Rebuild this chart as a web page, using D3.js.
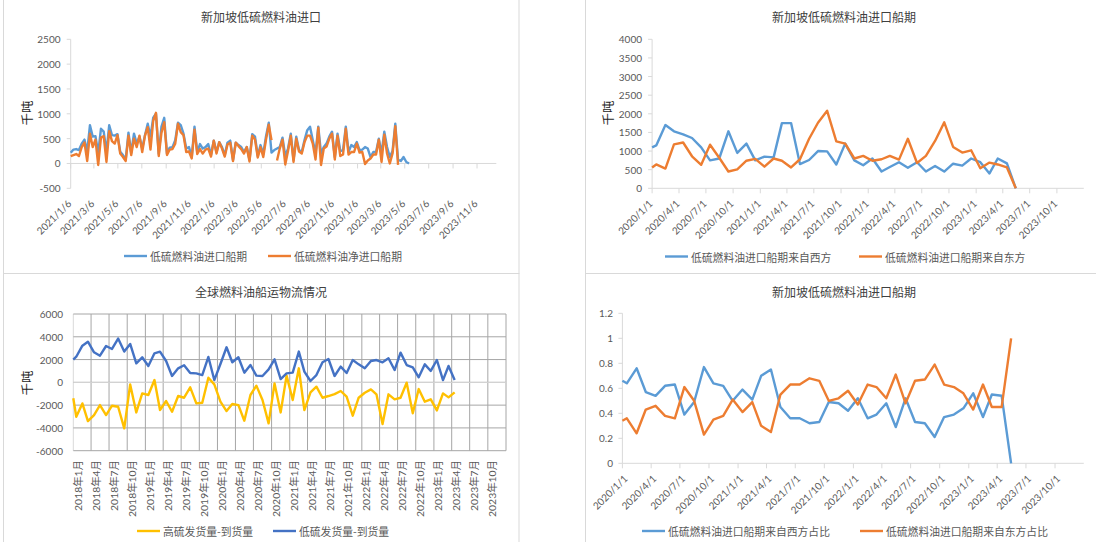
<!DOCTYPE html>
<html><head><meta charset="utf-8">
<script src="https://cdn.jsdelivr.net/npm/d3@7"></script>
<style>
body{margin:0;background:#fff;}
svg text{font-family:"Noto Sans CJK SC","Noto Sans",sans-serif;}
.num{font-family:Lato,"Noto Sans CJK SC",sans-serif;}
</style></head><body>
<svg id="c" width="1096" height="542"></svg>
<script>
// ---------------- DATA ----------------
// Panel 1: weekly, from 2021/1/6
const p1Title = "新加坡低硫燃料油进口";
const p1Start = "2021-01-06";
const p1Names = ["低硫燃料油进口船期", "低硫燃料油净进口船期"];
const p1Imports = [215,280,290,270,400,480,240,770,540,550, 210,700,640,230,770,570,560,590,235,170,
  80,620,215,600,400,540,300,570,800,540, 920,1000,190,740,920,200,320,330,470,820,
  770,600,300,330,130,740,230,390,300,330, 390,170,460,230,430,330,170,420,460,70,
  420,370,330,230,330,70,590,540,150,370, 190,550,820,220,270,300,330,520,150,300,
  600,70,540,270,230,470,670,740,470,200, 740,200,330,400,540,640,130,600,250,270,
  740,230,370,330,430,270,280,330,300,130, 230,230,500,200,640,330,130,250,800,70,
  50,130,30,0];
const p1NetImports = [150,170,190,150,330,420,50,600,330,480, -30,520,550,30,650,450,400,570,200,130,
  50,560,170,500,330,560,230,560,730,280, 860,1020,150,620,830,170,280,290,400,800,
  630,570,230,240,100,680,190,290,200,280, 300,140,460,200,430,300,140,380,420,50,
  420,350,290,200,330,40,560,480,120,330, 130,480,780,470,null,60,300,480,-20,250,
  560,30,500,240,200,430,560,560,400,80, 720,-30,300,340,500,600,80,560,150,180,
  700,180,230,230,400,220,230,-10,60,100, 180,180,480,30,580,200,0,200,750,-30];
const p1YTicks = [-500,0,500,1000,1500,2000,2500];

// Panel 2 / 4: monthly ship schedule, 2020/1 - 2023/5
const p2Title = "新加坡低硫燃料油进口船期";
const p2Dates = ["2020-01-01","2020-01-15","2020-02-15","2020-03-15","2020-04-15","2020-05-15","2020-06-15","2020-07-15","2020-08-15","2020-09-15","2020-10-15","2020-11-15","2020-12-15",
  "2021-01-15","2021-02-15","2021-03-15","2021-04-15","2021-05-15","2021-06-15","2021-07-15","2021-08-15","2021-09-15","2021-10-15","2021-11-15","2021-12-15",
  "2022-01-15","2022-02-15","2022-03-15","2022-04-15","2022-05-15","2022-06-15","2022-07-15","2022-08-15","2022-09-15","2022-10-15","2022-11-15","2022-12-15",
  "2023-01-15","2023-02-15","2023-03-15","2023-04-15","2023-05-15"];
const p2Names = ["低硫燃料油进口船期来自西方", "低硫燃料油进口船期来自东方"];
const p2West = [1100,1150,1700,1530,1450,1350,1100,750,800,1530,950,1200,750,850,830,1750,1750,650,760,1000,990,640,1200,750,620,800,450,570,700,550,700,450,600,450,660,610,800,700,400,800,670,0];
const p2East = [560,640,530,1180,1230,860,630,1170,820,450,510,740,790,580,800,740,560,780,1330,1760,2080,1260,1200,800,870,740,780,870,770,1330,680,870,1270,1770,1110,960,1020,540,690,640,560,0];
const p2YTicks = [0,500,1000,1500,2000,2500,3000,3500,4000];

const p4Names = ["低硫燃料油进口船期来自西方占比", "低硫燃料油进口船期来自东方占比"];
const p4West = [0.66,0.64,0.76,0.57,0.54,0.62,0.63,0.39,0.49,0.77,0.64,0.62,0.50,0.59,0.51,0.70,0.75,0.45,0.36,0.36,0.32,0.33,0.49,0.48,0.42,0.52,0.36,0.39,0.48,0.29,0.52,0.33,0.32,0.21,0.37,0.39,0.44,0.56,0.37,0.55,0.54,0];
const p4East = [0.34,0.36,0.24,0.43,0.46,0.38,0.36,0.61,0.50,0.23,0.35,0.38,0.51,0.41,0.49,0.30,0.25,0.55,0.63,0.63,0.68,0.66,0.50,0.52,0.58,0.47,0.63,0.61,0.52,0.71,0.48,0.66,0.67,0.79,0.63,0.61,0.56,0.43,0.63,0.45,0.45,1.0];
const p4YTicks = [0,0.2,0.4,0.6,0.8,1,1.2];

// Panel 3: monthly, 2018/1 - 2023/4
const p3Title = "全球燃料油船运物流情况";
const p3Names = ["高硫发货量-到货量", "低硫发货量-到货量"];
const p3High = [-1400,-3020,-1850,-3400,-2870,-2000,-2870,-2050,-2140,-4040,-180,-2640,-970,-1110,200,-2430,-1640,-2580,-1200,-1350,-440,-1850,-1790,410,-180,-1700,-2520,-1900,-2000,-3370,-1110,-290,-1550,-3600,
  -90,-2640,590,-1550,1230,-2430,-880,-380,-1350,-1200,-1030,-760,-1260,-2930,-1350,-910,-620,-1050,-3660,-1050,-1490,-1350,-30,-2720,-590,-1700,-1490,-2460,-970,-1320,-880];
const p3Low = [2000,2250,3220,3570,2640,2340,3190,2930,3840,2700,3370,1670,2200,1440,2550,2700,1875,560,1230,1500,820,790,640,2230,200,1610,3080,1760,2200,850,1520,590,560,1140,
  2020,290,790,850,2700,940,120,640,1760,2050,560,1380,820,1960,1580,1230,1875,1960,1760,2110,1080,2610,1520,1320,440,1580,1000,1960,200,1440,200];
const p3YTicks = [-6000,-4000,-2000,0,2000,4000,6000];
const unitLabel = "千吨";

// ---------------- DRAW ----------------
const svg = d3.select("#c");
const pd = d3.timeParse("%Y-%m-%d");
const C = {blue:"#5B9BD5", orange:"#ED7D31", yellow:"#FFC000", dblue:"#4472C4",
  axis:"#D9D9D9", txt:"#595959", title:"#404040", grid:"#A6A6A6"};
const fmtSlash = d3.timeFormat("%Y/%-m/%-d");
const FS = 10;      // numeric tick labels
const LFS = 10.8;   // legend text
const LW = 2.4;

// chart frames
svg.append("rect").attr("x",3.5).attr("y",-2).attr("width",515.5).attr("height",275.5).attr("fill","none").attr("stroke",C.axis);
svg.append("rect").attr("x",3.5).attr("y",273.5).attr("width",515.5).attr("height",272).attr("fill","none").attr("stroke",C.axis);
svg.append("rect").attr("x",585.5).attr("y",-2).attr("width",515).attr("height",275.5).attr("fill","none").attr("stroke",C.axis);
svg.append("rect").attr("x",585.5).attr("y",273.5).attr("width",515).attr("height",272).attr("fill","none").attr("stroke",C.axis);

function title(t, cx, cy){
  svg.append("text").attr("x",cx).attr("y",cy).attr("text-anchor","middle").attr("dominant-baseline","central")
    .attr("font-size",12).attr("fill",C.title).text(t);
}
function unit(x,y){
  svg.append("text").attr("transform",`translate(${x},${y}) rotate(-90)`).attr("text-anchor","middle")
    .attr("dominant-baseline","central").attr("font-size",12.5).attr("fill","#262626").text(unitLabel);
}
function legend(items, y){
  items.forEach(it=>{
    svg.append("line").attr("x1",it.x).attr("x2",it.x+23).attr("y1",y).attr("y2",y).attr("stroke",it.color).attr("stroke-width",LW);
    svg.append("text").attr("x",it.x+26).attr("y",y).attr("dominant-baseline","central").attr("font-size",LFS).attr("fill",C.txt).text(it.name);
  });
}
function yAxisSimple(y, ticks, axX, labX, fmt){
  const g = svg.append("g");
  g.append("line").attr("x1",axX).attr("x2",axX).attr("y1",y(ticks[ticks.length-1])).attr("y2",y(ticks[0])).attr("stroke",C.axis);
  ticks.forEach(t=>{
    g.append("line").attr("x1",axX-4).attr("x2",axX).attr("y1",y(t)).attr("y2",y(t)).attr("stroke",C.axis);
    g.append("text").attr("class","num").attr("x",labX).attr("y",y(t)).attr("text-anchor","end").attr("dominant-baseline","central")
      .attr("font-size",FS).attr("fill",C.txt).text(fmt?fmt(t):t);
  });
}
function xDateAxis(x, ticks, axY, x0, x1, labY, dx){
  svg.append("line").attr("x1",x0).attr("x2",x1).attr("y1",axY).attr("y2",axY).attr("stroke",C.axis);
  ticks.forEach(t=>{
    const px = x(t);
    svg.append("line").attr("x1",px).attr("x2",px).attr("y1",axY).attr("y2",axY+5).attr("stroke",C.axis);
    svg.append("text").attr("class","num").attr("transform",`translate(${px+dx},${labY}) rotate(-45)`).attr("text-anchor","end")
      .attr("dominant-baseline","central").attr("font-size",FS).attr("fill",C.txt).text(fmtSlash(t));
  });
}
function series(x,y,dates,vals,color){
  const data = dates.map((d,i)=>({d, v: vals[i]}));
  svg.append("path").datum(data).attr("fill","none").attr("stroke",color).attr("stroke-width",LW)
    .attr("stroke-linejoin","round")
    .attr("d", d3.line().defined(p=>p.v!==null && p.v!==undefined).x(p=>x(p.d)).y(p=>y(p.v)));
}

// ---- Panel 1 ----
{
  const start = pd(p1Start);
  const x = d3.scaleTime().domain([start, pd("2023-12-25")]).range([70.7, 496.3]);
  const y = d3.scaleLinear().domain([-500,2500]).range([188.3,39.3]);
  title(p1Title, 261, 16.7);
  unit(26, 113);
  yAxisSimple(y, p1YTicks, 70.7, 60.5);
  const ticks = d3.range(18).map(i=>d3.timeMonth.offset(start, i*2));
  xDateAxis(x, ticks, y(0), 70.7, 496.3, 201.5, -1.5);
  const dates = p1Imports.map((_,i)=>d3.timeDay.offset(start, i*7));
  series(x,y,dates,p1Imports,C.blue);
  series(x,y,dates.slice(0,p1NetImports.length),p1NetImports,C.orange);
  legend([{x:124,color:C.blue,name:p1Names[0]},{x:268,color:C.orange,name:p1Names[1]}], 256);
}
// ---- Panel 2 ----
{
  const x = d3.scaleTime().domain([pd("2020-01-01"), pd("2023-12-31")]).range([652.1, 1083.8]);
  const y = d3.scaleLinear().domain([0,4000]).range([188.3,39.3]);
  title(p2Title, 844, 16.7);
  unit(607, 113);
  yAxisSimple(y, p2YTicks, 652.1, 642);
  const ticks = d3.range(16).map(i=>d3.timeMonth.offset(pd("2020-01-01"), i*3));
  xDateAxis(x, ticks, 188.3, 652.1, 1083.8, 201.5, -1.5);
  const dates = p2Dates.map(pd);
  series(x,y,dates,p2West,C.blue);
  series(x,y,dates,p2East,C.orange);
  legend([{x:665,color:C.blue,name:p2Names[0]},{x:859,color:C.orange,name:p2Names[1]}], 256.5);
}
// ---- Panel 4 ----
{
  const x = d3.scaleTime().domain([pd("2020-01-01"), pd("2023-12-31")]).range([622.4, 1083.8]);
  const y = d3.scaleLinear().domain([0,1.2]).range([463.3,313.3]);
  title(p2Title, 844, 291);
  yAxisSimple(y, p4YTicks, 622.4, 613, d=>d3.format("~g")(d));
  const ticks = d3.range(16).map(i=>d3.timeMonth.offset(pd("2020-01-01"), i*3));
  xDateAxis(x, ticks, 463.3, 622.4, 1083.8, 476.5, 3);
  const dates = p2Dates.map(pd);
  series(x,y,dates,p4West,C.blue);
  series(x,y,dates,p4East,C.orange);
  legend([{x:642,color:C.blue,name:p4Names[0]},{x:860,color:C.orange,name:p4Names[1]}], 531);
}
// ---- Panel 3 ----
{
  const x0 = pd("2018-01-01");
  const x = d3.scaleTime().domain([x0, pd("2024-01-01")]).range([73.3, 506]);
  const y = d3.scaleLinear().domain([-6000,6000]).range([450.7,314]);
  title(p3Title, 261, 291);
  unit(26, 383);
  const qt = d3.range(25).map(i=>d3.timeMonth.offset(x0, i*3));
  qt.forEach((t,i)=>{
    svg.append("line").attr("x1",x(t)).attr("x2",x(t)).attr("y1",314).attr("y2",450.7)
      .attr("stroke", i===0 ? C.axis : C.grid).attr("stroke-width",1);
  });
  p3YTicks.forEach(t=>{
    svg.append("line").attr("x1",73.3).attr("x2",506).attr("y1",y(t)).attr("y2",y(t)).attr("stroke",C.grid).attr("stroke-width",1);
    svg.append("text").attr("class","num").attr("x",63).attr("y",y(t)).attr("text-anchor","end").attr("dominant-baseline","central")
      .attr("font-size",FS).attr("fill",C.txt).text(t);
  });
  svg.append("line").attr("x1",73.3).attr("x2",506).attr("y1",y(0)).attr("y2",y(0)).attr("stroke",C.axis).attr("stroke-width",1);
  qt.slice(0,24).forEach(t=>{
    const lbl = `${t.getFullYear()}年${t.getMonth()+1}月`;
    svg.append("text").attr("class","num").attr("transform",`translate(${x(t)+4.5},460) rotate(-90)`).attr("text-anchor","end")
      .attr("dominant-baseline","central").attr("font-size",10.4).attr("fill",C.txt).text(lbl);
  });
  const dates = p3Low.map((_,i)=> i===0 ? x0 : d3.timeDay.offset(d3.timeMonth.offset(x0, i-1), 15));
  series(x,y,dates,p3High,C.yellow);
  series(x,y,dates,p3Low,C.dblue);
  legend([{x:137,color:C.yellow,name:p3Names[0]},{x:273,color:C.dblue,name:p3Names[1]}], 531);
}
</script>
</body></html>
